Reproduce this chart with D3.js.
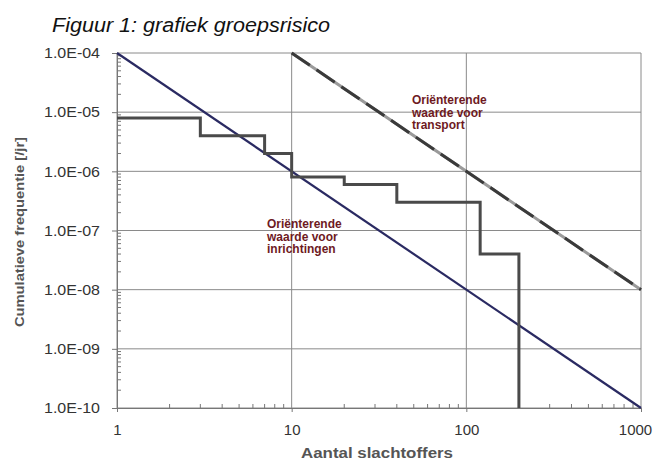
<!DOCTYPE html>
<html><head><meta charset="utf-8">
<script src="https://cdn.jsdelivr.net/npm/d3@7"></script>
<style>body{margin:0;background:#fff}svg{display:block}text{font-family:Arial,"Liberation Sans",sans-serif}</style>
</head><body><svg id="c" width="659" height="464"></svg>
<script>
const titleText = "Figuur 1: grafiek groepsrisico";
const xLabel = "Aantal slachtoffers";
const yLabel = "Cumulatieve frequentie [/jr]";
const xTicks = [1, 10, 100, 1000];
const xTickLabels = ["1", "10", "100", "1000"];
const yTicks = [1e-4, 1e-5, 1e-6, 1e-7, 1e-8, 1e-9, 1e-10];
const yTickLabels = ["1.0E-04", "1.0E-05", "1.0E-06", "1.0E-07", "1.0E-08", "1.0E-09", "1.0E-10"];
// step curve (groepsrisico): N, frequency from that N onward
const stepN = [1, 3, 7, 10, 20, 40, 120, 200];
const stepF = [8e-6, 4e-6, 2e-6, 8e-7, 6e-7, 3e-7, 4e-8, 1e-10];
// orienterende waarde inrichtingen
const inrN = [1, 1000];
const inrF = [1e-4, 1e-10];
// orienterende waarde transport
const trN = [10, 1000];
const trF = [1e-4, 1e-8];
const annTransport = ["Oriënterende", "waarde voor", "transport"];
const annInrichting = ["Oriënterende", "waarde voor", "inrichtingen"];

const svg = d3.select("#c");
const L = 117, R = 641, T = 53, B = 408;
const x = d3.scaleLog().domain([1, 1000]).range([L, R]);
const y = d3.scaleLog().domain([1e-10, 1e-4]).range([B, T]);

svg.append("text").attr("x", 52).attr("y", 32).attr("font-size", 20)
  .attr("textLength", 278).attr("lengthAdjust", "spacingAndGlyphs")
  .attr("font-style", "italic").attr("fill", "#111").text(titleText);

// grid
const g = svg.append("g");
yTicks.forEach(v => g.append("line").attr("x1", L).attr("x2", R).attr("y1", y(v)).attr("y2", y(v))
  .attr("stroke", "#8a8a8a").attr("stroke-width", 1));
xTicks.forEach(v => g.append("line").attr("x1", x(v)).attr("x2", x(v)).attr("y1", T).attr("y2", B)
  .attr("stroke", "#8a8a8a").attr("stroke-width", 1));

// minor ticks
const minorX = [];
for (let d = 1; d < 1000; d *= 10) for (let k = 2; k <= 9; k++) minorX.push(d * k);
const minorY = [];
for (let d = 1e-10; d < 1e-4 * 0.99; d *= 10) for (let k = 2; k <= 9; k++) minorY.push(d * k);
svg.append("g").selectAll("line").data(minorX).join("line")
  .attr("x1", d => x(d)).attr("x2", d => x(d)).attr("y1", B).attr("y2", B - 4)
  .attr("stroke", "#777").attr("stroke-width", 1);
svg.append("g").selectAll("line").data(minorY).join("line")
  .attr("x1", L).attr("x2", L + 4).attr("y1", d => y(d)).attr("y2", d => y(d))
  .attr("stroke", "#777").attr("stroke-width", 1);

// axes
const ya = svg.append("g").attr("transform", `translate(${L},0)`)
  .call(d3.axisLeft(y).tickValues(yTicks).tickFormat((d, i) => yTickLabels[i]).tickSize(5).tickPadding(12));
ya.select(".domain").attr("stroke", "#777");
ya.selectAll(".tick line").attr("stroke", "#777");
ya.selectAll(".tick text").attr("font-size", 15).attr("fill", "#333")
  .attr("textLength", 56).attr("lengthAdjust", "spacingAndGlyphs")
  .attr("font-family", "Arial,'Liberation Sans',sans-serif");
const xa = svg.append("g").attr("transform", `translate(0,${B})`)
  .call(d3.axisBottom(x).tickValues(xTicks).tickFormat((d, i) => xTickLabels[i]).tickSize(4).tickPadding(12));
xa.select(".domain").attr("stroke", "#777");
xa.selectAll(".tick line").attr("stroke", "#777");
xa.selectAll(".tick text").attr("font-size", 15).attr("fill", "#333").attr("font-family", "Arial,'Liberation Sans',sans-serif");
xa.selectAll(".tick").filter(d => d === 1000).select("text").attr("dx", -6);

// axis titles
svg.append("text").attr("x", 377).attr("y", 458).attr("text-anchor", "middle")
  .attr("font-size", 14).attr("font-weight", "bold").attr("fill", "#555")
  .attr("textLength", 152).attr("lengthAdjust", "spacingAndGlyphs").text(xLabel);
svg.append("text").attr("transform", "translate(24,232) rotate(-90)").attr("text-anchor", "middle")
  .attr("font-size", 12.5).attr("font-weight", "bold").attr("fill", "#555")
  .attr("textLength", 190).attr("lengthAdjust", "spacingAndGlyphs").text(yLabel);

// lines
const line = d3.line().x(d => x(d[0])).y(d => y(d[1]));
svg.append("path").attr("d", line(inrN.map((n, i) => [n, inrF[i]])))
  .attr("fill", "none").attr("stroke", "#2a2a62").attr("stroke-width", 2.2);
const trData = trN.map((n, i) => [n, trF[i]]);
svg.append("path").attr("d", line(trData)).attr("fill", "none").attr("stroke", "#9a9a9a").attr("stroke-width", 3);
svg.append("path").attr("d", line(trData)).attr("fill", "none").attr("stroke", "#3a3a3a")
  .attr("stroke-width", 3).attr("stroke-dasharray", "22,8");

// step
const stepPts = [];
stepN.forEach((n, i) => {
  if (i > 0) stepPts.push([n, stepF[i - 1]]);
  stepPts.push([n, stepF[i]]);
});
svg.append("path").attr("d", line(stepPts)).attr("fill", "none")
  .attr("stroke", "#4a4a4a").attr("stroke-width", 3);

// annotations
function ann(lines, px, py) {
  const t = svg.append("text").attr("x", px).attr("y", py).attr("font-size", 12)
    .attr("font-weight", "bold").attr("fill", "#6e1a1f");
  lines.forEach((s, i) => t.append("tspan").attr("x", px).attr("dy", i ? 12.5 : 0).text(s));
}
ann(annTransport, 412, 104);
ann(annInrichting, 267, 228);
</script></body></html>
